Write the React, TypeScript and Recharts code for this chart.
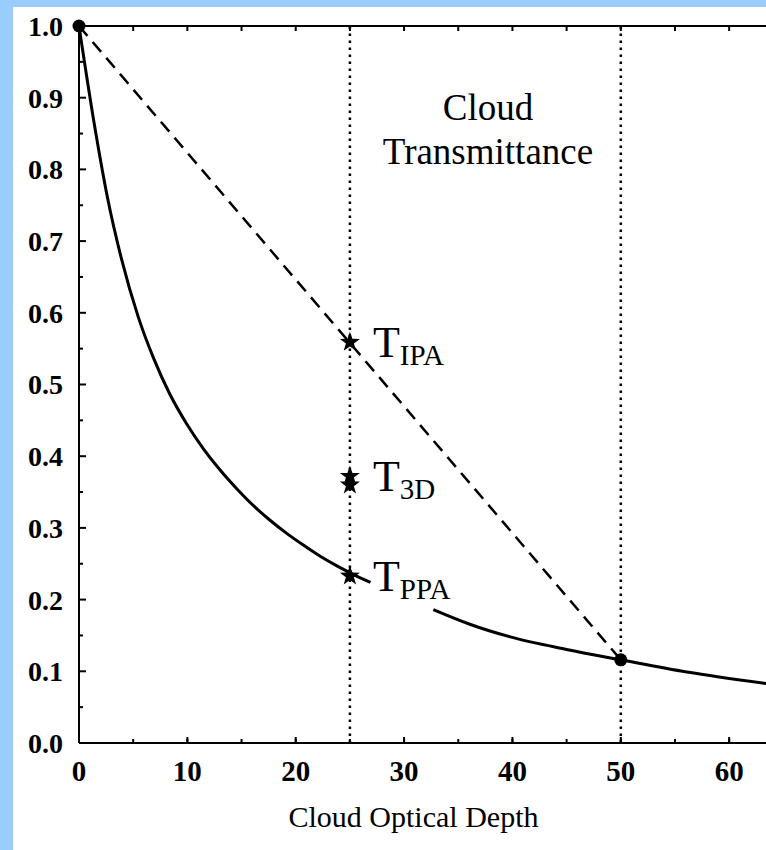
import React from "react";
import {
  ComposedChart,
  Line,
  Scatter,
  XAxis,
  YAxis,
  ReferenceLine,
} from "recharts";

const FONT = '"Liberation Serif", "Times New Roman", serif';

// plane-parallel curve, left piece (stops before the T_PPA label)
const tauLeft = [0, 1.48, 2.65, 3.94, 5.45, 6.9, 8.4, 9.9, 11.5, 13.0, 14.6, 16.1, 17.6, 19.2, 20.7, 22.3, 23.8, 25.2, 26.9];
const tLeft = [1.0, 0.857, 0.759, 0.674, 0.595, 0.536, 0.486, 0.446, 0.41, 0.381, 0.354, 0.331, 0.311, 0.292, 0.276, 0.26, 0.247, 0.236, 0.224];

// right piece after the label gap
const tauRight = [32.7, 36, 39.8, 45, 50, 56.1, 63.4];
const tRight = [0.186, 0.166, 0.148, 0.1305, 0.116, 0.099, 0.083];

// dashed IPA chord between the two end points
const tauIpa = [0, 50];
const tIpa = [1.0, 0.116];

// star markers at tau = 25
const starTau = [25, 25, 25, 25];
const starT = [0.559, 0.372, 0.36, 0.233];
const starSub = ["IPA", "3D", "", "PPA"];

const xTicks = [0, 10, 20, 30, 40, 50, 60];
const xMinorTicks = [5, 10, 15, 20, 25, 30, 35, 40, 45, 50, 55, 60];
const yTicks = [0, 0.1, 0.2, 0.3, 0.4, 0.5, 0.6, 0.7, 0.8, 0.9, 1.0];
const yMinorTicks = [0.05, 0.15, 0.25, 0.35, 0.45, 0.55, 0.65, 0.75, 0.85, 0.95];

const leftData = tauLeft.map((tau, i) => ({ tau, t: tLeft[i] }));
const rightData = tauRight.map((tau, i) => ({ tau, t: tRight[i] }));
const ipaData = tauIpa.map((tau, i) => ({ tau, t: tIpa[i] }));
const starData = starTau.map((tau, i) => ({ tau, t: starT[i], sub: starSub[i] }));

function starPath(cx: number, cy: number, R: number, r: number) {
  let d = "";
  for (let i = 0; i < 10; i++) {
    const a = -Math.PI / 2 + (i * Math.PI) / 5;
    const rad = i % 2 === 0 ? R : r;
    d += (i === 0 ? "M" : "L") + (cx + rad * Math.cos(a)).toFixed(1) + "," + (cy + rad * Math.sin(a)).toFixed(1);
  }
  return d + "Z";
}

const StarShape = (props: any) => {
  const { cx, cy, payload } = props;
  return (
    <g>
      <path d={starPath(cx, cy, 10.5, 4.2)} fill="#000" />
      {payload.sub ? (
        <text x={cx + 23} y={cy + 15} fontFamily={FONT} fontSize={44} fill="#000">
          T
          <tspan fontSize={29} dy={8}>
            {payload.sub}
          </tspan>
        </text>
      ) : null}
    </g>
  );
};

const DotShape = (props: any) => <circle cx={props.cx} cy={props.cy} r={6.5} fill="#000" />;

const tickStyle = { fontSize: 29, fill: "#000", fontFamily: FONT, fontWeight: "bold" as const };
const axisStyle = { stroke: "#000", strokeWidth: 2 };
const blank = () => "";

export default function App() {
  return (
    <div style={{ position: "absolute", left: 0, top: 0, width: 766, height: 850, background: "#99ccff", overflow: "hidden" }}>
      <div style={{ position: "absolute", left: 13, top: 7, width: 753, height: 843, background: "#fff" }} />
      <div style={{ position: "absolute", left: 0, top: 0 }}>
        <ComposedChart width={766} height={850} margin={{ top: 26, right: 0, left: 0, bottom: 0 }}>
          <XAxis
            type="number"
            dataKey="tau"
            domain={[0, 63.4]}
            ticks={xTicks}
            height={107}
            tickSize={0}
            tickMargin={17}
            tickLine={false}
            axisLine={axisStyle}
            fontSize={29}
            fontFamily={FONT}
            tick={tickStyle}
            label={{ value: "Cloud Optical Depth", position: "insideBottom", offset: 23, dx: -9, fontSize: 30, fill: "#000", fontFamily: FONT }}
          />
          <XAxis xAxisId="bMinor" dataKey="tau" type="number" domain={[0, 63.4]} allowDataOverflow ticks={xMinorTicks} interval={0} height={1} mirror tickSize={3} axisLine={false} tickLine={axisStyle} tickFormatter={blank} />
          <XAxis xAxisId="bMajor" dataKey="tau" type="number" domain={[0, 63.4]} allowDataOverflow ticks={xTicks} interval={0} height={1} mirror tickSize={6} axisLine={false} tickLine={axisStyle} tickFormatter={blank} />
          <XAxis xAxisId="top" dataKey="tau" orientation="top" type="number" domain={[0, 63.4]} allowDataOverflow ticks={xMinorTicks} interval={0} height={1} mirror tickSize={5} axisLine={axisStyle} tickLine={axisStyle} tickFormatter={blank} />
          <YAxis
            type="number"
            domain={[0, 1]}
            ticks={yTicks}
            width={79}
            tickSize={0}
            tickMargin={16}
            tickLine={false}
            axisLine={axisStyle}
            fontSize={28}
            fontFamily={FONT}
            tick={{ ...tickStyle, fontSize: 28 }}
            tickFormatter={(v: number) => v.toFixed(1)}
          />
          <YAxis yAxisId="yMinor" type="number" domain={[0, 1]} allowDataOverflow ticks={yMinorTicks} interval={0} width={1} mirror tickSize={3} axisLine={false} tickLine={axisStyle} tickFormatter={blank} />
          <YAxis yAxisId="yMajor" type="number" domain={[0, 1]} allowDataOverflow ticks={yTicks} interval={0} width={1} mirror tickSize={7} axisLine={false} tickLine={axisStyle} tickFormatter={blank} />

          <ReferenceLine x={25} stroke="#000" strokeWidth={2.5} strokeDasharray="2.5 4.5" />
          <ReferenceLine x={50} stroke="#000" strokeWidth={2.5} strokeDasharray="2.5 4.5" />

          <Line data={ipaData} dataKey="t" type="linear" stroke="#000" strokeWidth={2.5} strokeDasharray="13 8" dot={false} isAnimationActive={false} />
          <Line data={leftData} dataKey="t" type="monotone" stroke="#000" strokeWidth={3} dot={false} isAnimationActive={false} />
          <Line data={rightData} dataKey="t" type="monotone" stroke="#000" strokeWidth={3} dot={false} isAnimationActive={false} />
          <Scatter data={ipaData} dataKey="t" shape={DotShape} isAnimationActive={false} />
          <Scatter data={starData} dataKey="t" shape={StarShape} isAnimationActive={false} />
        </ComposedChart>
      </div>
      <svg width={766} height={850} style={{ position: "absolute", left: 0, top: 0, pointerEvents: "none" }}>
        <text x={488} y={120} textAnchor="middle" fontFamily={FONT} fontSize={37} fill="#000">
          Cloud
        </text>
        <text x={488} y={164} textAnchor="middle" fontFamily={FONT} fontSize={37} fill="#000">
          Transmittance
        </text>
      </svg>
    </div>
  );
}
